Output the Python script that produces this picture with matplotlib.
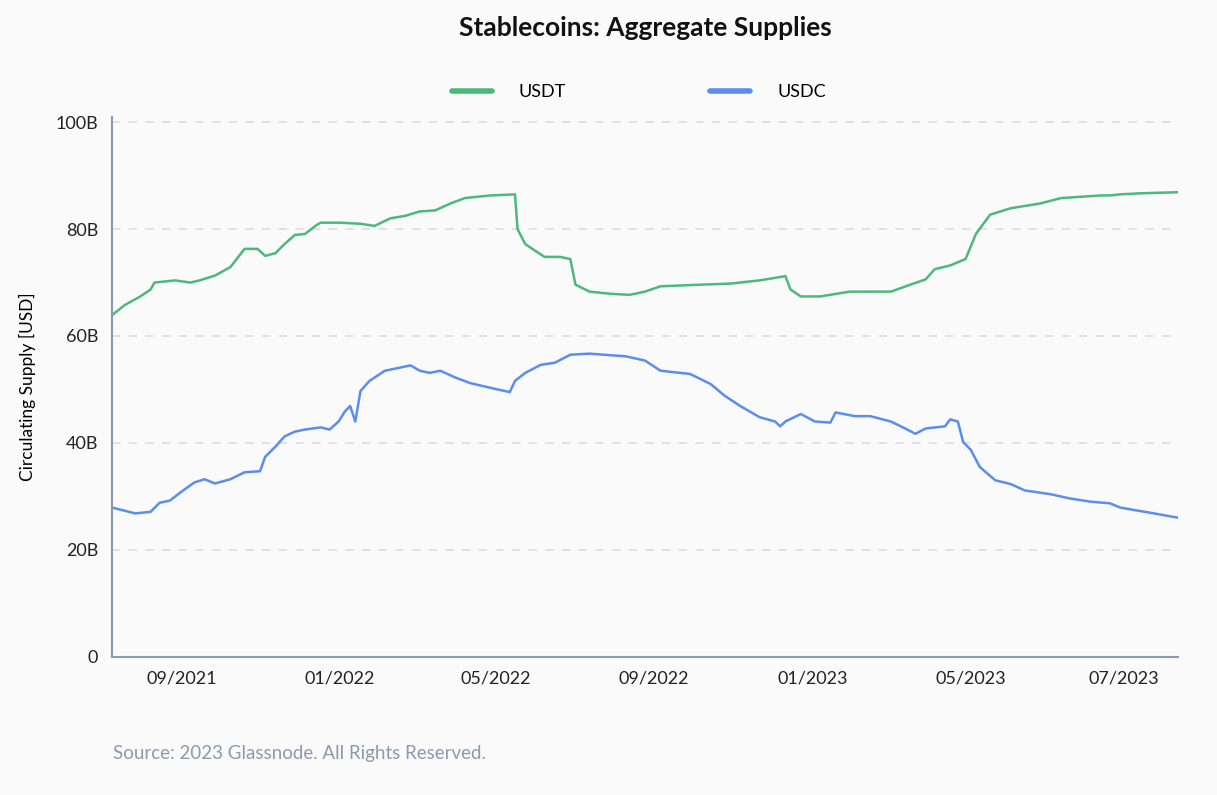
import matplotlib
matplotlib.use("Agg")
import matplotlib.pyplot as plt

# days since 2021-07-09, supply in billions USD
usdt_days = [0, 10, 22, 30, 33, 41, 49, 61, 68, 80, 92, 103, 113, 119, 127, 134, 142, 150, 158, 162,
             177, 193, 204, 216, 228, 239, 251, 263, 274, 294, 313, 315, 321, 329, 336, 348, 356, 360,
             371, 387, 402, 414, 426, 457, 480, 503, 523, 527, 535, 550, 573, 605, 620, 632, 639, 651,
             663, 671, 682, 698, 721, 737, 768, 775, 783, 799, 828]
usdt = [63.9, 65.8, 67.4, 68.7, 70.0, 70.2, 70.4, 70.0, 70.4, 71.3, 72.9, 76.3, 76.3, 75.0, 75.5, 77.2,
        78.9, 79.1, 80.6, 81.2, 81.2, 81.0, 80.6, 82.0, 82.5, 83.3, 83.5, 84.8, 85.8, 86.3, 86.5, 80.0,
        77.2, 75.9, 74.8, 74.8, 74.4, 69.6, 68.3, 67.9, 67.7, 68.3, 69.3, 69.6, 69.8, 70.4, 71.2, 68.7,
        67.4, 67.4, 68.3, 68.3, 69.6, 70.6, 72.5, 73.2, 74.4, 79.1, 82.7, 83.9, 84.8, 85.8, 86.3, 86.3,
        86.5, 86.7, 86.9]

usdc_days = [0, 10, 18, 30, 37, 45, 53, 64, 72, 80, 92, 103, 115, 119, 127, 134, 142, 150, 162, 169,
             176, 181, 185, 189, 193, 200, 212, 224, 232, 239, 247, 255, 267, 278, 294, 309, 313, 321,
             333, 344, 356, 371, 387, 399, 414, 426, 449, 465, 476, 488, 503, 515, 519, 523, 535, 546,
             558, 562, 577, 589, 605, 616, 624, 632, 647, 651, 657, 661, 667, 674, 686, 698, 709, 729,
             744, 760, 775, 783, 807, 828]
usdc = [27.9, 27.3, 26.8, 27.1, 28.8, 29.2, 30.7, 32.6, 33.2, 32.4, 33.2, 34.5, 34.7, 37.4, 39.3, 41.2,
        42.1, 42.5, 42.9, 42.5, 44.0, 45.9, 46.9, 44.0, 49.7, 51.6, 53.5, 54.1, 54.5, 53.5, 53.1, 53.5,
        52.2, 51.2, 50.3, 49.5, 51.6, 53.1, 54.6, 55.0, 56.5, 56.7, 56.4, 56.2, 55.4, 53.5, 52.9, 51.0,
        48.8, 46.9, 44.8, 44.0, 43.1, 44.0, 45.4, 44.0, 43.8, 45.7, 45.0, 45.0, 44.0, 42.7, 41.7, 42.7,
        43.1, 44.4, 44.0, 40.2, 38.7, 35.5, 33.0, 32.3, 31.1, 30.4, 29.6, 29.0, 28.7, 27.9, 26.9, 26.0]

tick_days = [54, 177, 298, 421, 544, 667, 786]
tick_labels = ["09/2021", "01/2022", "05/2022", "09/2022", "01/2023", "05/2023", "07/2023"]
y_ticks = [0, 20, 40, 60, 80, 100]
y_labels = ["0", "20B", "40B", "60B", "80B", "100B"]

plt.rcParams["font.family"] = ["Lato", "DejaVu Sans"]
bg = "#fafafa"
fig = plt.figure(figsize=(12.17, 7.95), dpi=100, facecolor=bg)
ax = fig.add_axes([0.092, 0.174, 0.876, 0.679], facecolor=bg)

ax.plot(usdt_days, usdt, color="#4cb97a", lw=1.8, label="USDT")
ax.plot(usdc_days, usdc, color="#5b8def", lw=1.8, label="USDC")

ax.set_xlim(0, 828)
ax.set_ylim(0, 101)
ax.set_xticks(tick_days)
ax.set_xticklabels(tick_labels)
ax.set_yticks(y_ticks)
ax.set_yticklabels(y_labels)
ax.tick_params(length=0, labelsize=13, colors="#222222", pad=10)
ax.grid(axis="y", linestyle=(0, (5, 5)), color="#dddddd", lw=1.2)
for s in ["top", "right"]:
    ax.spines[s].set_visible(False)
ax.spines["left"].set_color("#8a9ab0")
ax.spines["left"].set_linewidth(1.5)
ax.spines["bottom"].set_color("#8a9ab0")
ax.spines["bottom"].set_linewidth(1.5)
ax.set_ylabel("Circulating Supply [USD]", fontsize=12.5, labelpad=14)

leg = fig.legend(loc="upper center", bbox_to_anchor=(0.525, 0.915), ncol=2, frameon=False,
                 fontsize=13, handlelength=2.2, columnspacing=8, handletextpad=1.5)
for h in leg.get_lines():
    h.set_linewidth(4)
    h.set_solid_capstyle("round")
fig.text(0.53, 0.965, "Stablecoins: Aggregate Supplies", ha="center", va="center",
         fontsize=19, fontweight="bold", color="#111111")
fig.text(0.093, 0.045, "Source: 2023 Glassnode. All Rights Reserved.", fontsize=13.5,
         color="#8a9bb0")

fig.savefig("out.png", dpi=100, facecolor=bg)
